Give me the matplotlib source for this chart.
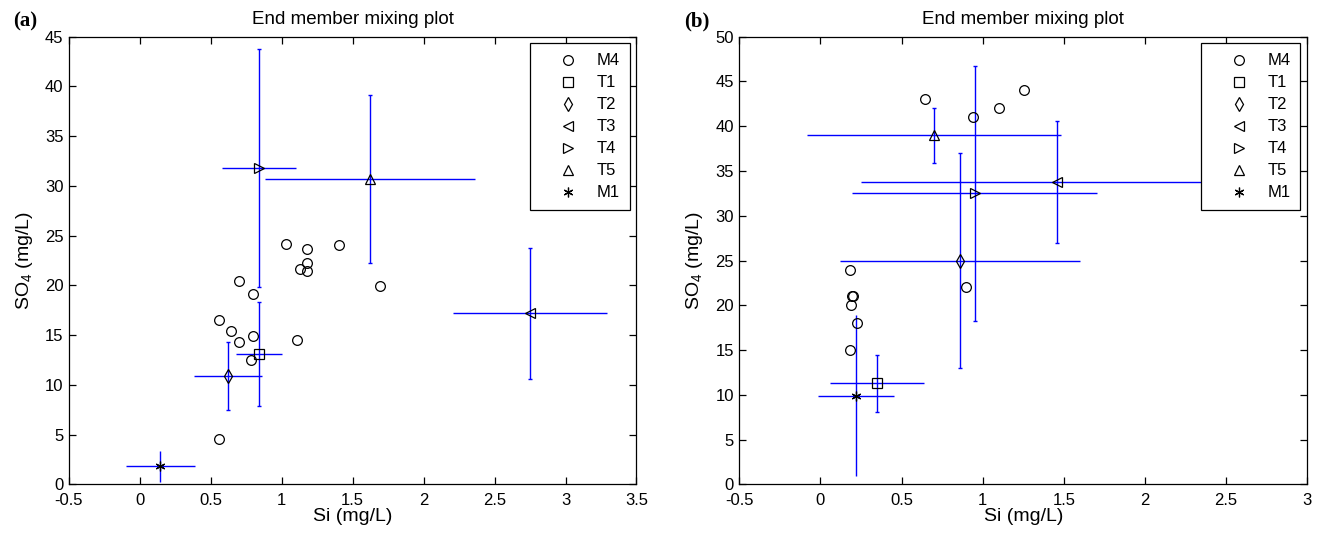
import matplotlib
matplotlib.use('Agg')
import matplotlib.pyplot as plt
from matplotlib.lines import Line2D

plt.rcParams['font.family'] = ['Liberation Sans', 'DejaVu Sans']
plt.rcParams['mathtext.default'] = 'regular'

# ---- panel (a) ----
m4_si_a = [1.03, 1.175, 1.40, 1.175, 1.13, 1.18, 0.70, 0.80, 1.69, 0.56, 0.64, 0.70, 0.80, 1.11, 0.78, 0.56]
m4_so4_a = [24.2, 23.7, 24.1, 22.3, 21.7, 21.5, 20.4, 19.1, 19.9, 16.5, 15.4, 14.3, 14.9, 14.5, 12.5, 4.6]
# end members: T1, T2, T3, T4, T5, M1
si_a = [0.84, 0.62, 2.75, 0.84, 1.62, 0.145]
so4_a = [13.1, 10.9, 17.2, 31.8, 30.7, 1.85]
si_err_a = [0.16, 0.24, 0.54, 0.26, 0.74, 0.24]
so4_err_a = [5.2, 3.4, 6.6, 12.0, 8.4, 1.55]

# ---- panel (b) ----
m4_si_b = [0.643, 1.255, 1.10, 0.94, 0.185, 0.197, 0.203, 0.19, 0.226, 0.18, 0.90]
m4_so4_b = [43, 44, 42, 41, 24, 21, 21, 20, 18, 15, 22]
si_b = [0.35, 0.86, 1.46, 0.95, 0.70, 0.22]
so4_b = [11.3, 25.0, 33.8, 32.5, 39.0, 9.9]
si_err_b = [0.29, 0.74, 1.21, 0.755, 0.78, 0.235]
so4_err_b = [3.2, 12.0, 6.8, 14.2, 3.05, 9.0]

names = ['T1', 'T2', 'T3', 'T4', 'T5', 'M1']
markers = ['s', 'd', '<', '>', '^', (6, 2, 0)]
caps = [1.2, 1.2, 1.2, 1.2, 1.2, 0]

BLUE = '#0000ff'


def draw_panel(ax, m4x, m4y, x, y, xe, ye, xlim, ylim, xticks, yticks, tag):
    for i in range(len(x)):
        ax.errorbar(x[i], y[i], yerr=ye[i], fmt='none', ecolor=BLUE, elinewidth=1.0,
                    capsize=caps[i], capthick=1.0, zorder=2)
        ax.errorbar(x[i], y[i], xerr=xe[i], fmt='none', ecolor=BLUE, elinewidth=1.0,
                    capsize=0, zorder=2)
    ax.plot(m4x, m4y, 'o', mfc='none', mec='black', ms=7, mew=0.9, zorder=3)
    for i in range(len(x)):
        ax.plot(x[i], y[i], marker=markers[i], ls='none', mfc='none', mec='black',
                ms=7, mew=0.9, zorder=3)

    ax.set_xlim(xlim)
    ax.set_ylim(ylim)
    ax.set_xticks(xticks)
    ax.set_yticks(yticks)
    ax.set_xticklabels([('%g' % t) for t in xticks])
    ax.set_yticklabels([('%g' % t) for t in yticks])
    ax.tick_params(direction='in', length=5, width=0.9, labelsize=12, pad=4,
                   top=True, right=True)
    ax.tick_params(axis='x', pad=6)
    for s in ax.spines.values():
        s.set_linewidth(0.9)
    ax.set_title('End member mixing plot', fontsize=13.5, pad=9)
    ax.set_xlabel('Si (mg/L)', fontsize=14, labelpad=0)
    ax.set_ylabel('SO$_4$ (mg/L)', fontsize=14, labelpad=7)

    handles = [Line2D([], [], ls='none', marker='o', mfc='none', mec='black', ms=7, mew=0.9)]
    for m in markers:
        handles.append(Line2D([], [], ls='none', marker=m, mfc='none', mec='black', ms=7, mew=0.9))
    labels = ['M4'] + names
    leg = ax.legend(handles, labels, loc='upper right', fontsize=12, frameon=True,
                    fancybox=False, edgecolor='black', framealpha=1, borderpad=0.6,
                    handlelength=3.4, handletextpad=0.0, labelspacing=0.42,
                    borderaxespad=0.4)
    leg.get_frame().set_linewidth(0.9)
    leg.set_zorder(5)

    ax.text(-0.098, 1.035, tag, transform=ax.transAxes, fontsize=15, fontweight='bold',
            family='Liberation Serif', ha='left', va='center')


fig = plt.figure(figsize=(13.21, 5.34), dpi=100)
ax1 = fig.add_axes([0.0522, 0.0927, 0.4296, 0.8386])
ax2 = fig.add_axes([0.5597, 0.0927, 0.4298, 0.8386])

draw_panel(ax1, m4_si_a, m4_so4_a, si_a, so4_a, si_err_a, so4_err_a,
           (-0.5, 3.5), (0, 45), [-0.5, 0, 0.5, 1, 1.5, 2, 2.5, 3, 3.5],
           list(range(0, 46, 5)), '(a)')
draw_panel(ax2, m4_si_b, m4_so4_b, si_b, so4_b, si_err_b, so4_err_b,
           (-0.5, 3.0), (0, 50), [-0.5, 0, 0.5, 1, 1.5, 2, 2.5, 3],
           list(range(0, 51, 5)), '(b)')

fig.savefig('out.png', dpi=100)
